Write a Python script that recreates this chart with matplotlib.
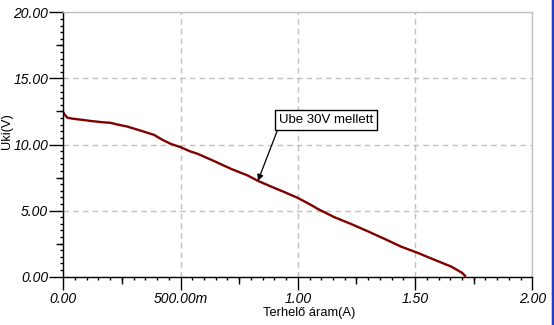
import matplotlib
matplotlib.use("Agg")
import matplotlib.pyplot as plt
from matplotlib.ticker import MultipleLocator, FixedLocator
from matplotlib.lines import Line2D

# Load current (A) vs. output voltage (V)
current = [0.000, 0.004, 0.017, 0.040, 0.079, 0.122, 0.164, 0.201, 0.236,
           0.272, 0.315, 0.351, 0.387, 0.423, 0.458, 0.500, 0.541, 0.572,
           0.644, 0.715, 0.787, 0.830, 0.886, 0.944, 1.000, 1.054, 1.085,
           1.156, 1.227, 1.299, 1.370, 1.441, 1.506, 1.584, 1.655, 1.700,
           1.717]
voltage = [12.45, 12.30, 12.03, 11.95, 11.87, 11.77, 11.69, 11.64, 11.49,
           11.36, 11.13, 10.93, 10.73, 10.35, 10.05, 9.80, 9.48, 9.30,
           8.74, 8.16, 7.65, 7.25, 6.82, 6.39, 5.96, 5.45, 5.13,
           4.50, 3.99, 3.43, 2.86, 2.27, 1.84, 1.27, 0.76, 0.30,
           0.00]

x_ticks = [0.0, 0.5, 1.0, 1.5, 2.0]
x_tick_labels = ["0.00", "500.00m", "1.00", "1.50", "2.00"]
y_ticks = [0, 5, 10, 15, 20]
y_tick_labels = ["0.00", "5.00", "10.00", "15.00", "20.00"]

annot_text = "Ube 30V mellett"
annot_point = (0.83, 7.25)
annot_box = (0.92, 12.30)

W, H = 554, 325
fig = plt.figure(figsize=(W / 100, H / 100), dpi=100)
fig.patch.set_facecolor("white")

x0, x1 = 63.3, 532.3
y0, y1 = 276.7, 12.3
ax = fig.add_axes([x0 / W, 1 - y0 / H, (x1 - x0) / W, (y0 - y1) / H])

ax.plot(current, voltage, color="#800000", lw=1.7, solid_capstyle="butt",
        solid_joinstyle="round")

ax.set_xlim(0, 2)
ax.set_ylim(0, 20)

tick_font = dict(family="Liberation Sans", style="italic", size=10)

ax.xaxis.set_major_locator(FixedLocator(x_ticks))
ax.set_xticklabels(x_tick_labels, **tick_font)
ax.yaxis.set_major_locator(FixedLocator(y_ticks))
ax.set_yticklabels(y_tick_labels, **tick_font)
ax.xaxis.set_minor_locator(MultipleLocator(0.05))
ax.yaxis.set_minor_locator(MultipleLocator(0.5))

ax.tick_params(axis="x", which="major", direction="out", length=9, width=1,
               pad=2, color="black")
ax.tick_params(axis="y", which="major", direction="out", length=10, width=1,
               pad=1, color="black")
ax.tick_params(which="minor", direction="out", length=2.5, width=1, color="black")

# intermediate ticks at the half-divisions
sx = ax.secondary_xaxis("bottom")
sx.set_xticks([0.25, 0.75, 1.25, 1.75])
sx.set_xticklabels([])
sx.tick_params(direction="out", length=5, width=1, color="black")
sx.spines["bottom"].set_visible(False)
sy = ax.secondary_yaxis("left")
sy.set_yticks([2.5, 7.5, 12.5, 17.5])
sy.set_yticklabels([])
sy.tick_params(direction="out", length=5, width=1, color="black")
sy.spines["left"].set_visible(False)

ax.grid(True, which="major", color="#c0c0c0", linestyle=(0, (4, 3)), lw=1)
for s in ("top", "right"):
    ax.spines[s].set_color("#c0c0c0")
    ax.spines[s].set_linewidth(1)
for s in ("left", "bottom"):
    ax.spines[s].set_color("black")
    ax.spines[s].set_linewidth(1)
ax.set_axisbelow(True)

fig.text(309 / W, 1 - 313 / H, "Terhelő áram(A)", ha="center", va="center",
         family="Liberation Sans", size=9.3)
fig.text(7.5 / W, 1 - 131 / H, "Uki(V)", ha="center", va="center",
         rotation=90, family="Liberation Sans", size=9.3)

ax.annotate(annot_text, xy=annot_point, xytext=annot_box,
            textcoords="data", ha="left", va="top",
            family="Liberation Sans", size=9.5,
            bbox=dict(boxstyle="square,pad=0.3", fc="white", ec="black", lw=1),
            arrowprops=dict(arrowstyle="-|>", color="black", lw=0.9,
                            mutation_scale=9, shrinkA=0, shrinkB=0,
                            relpos=(0.0, 0.0)))

# window frame on the right edge
fig.add_artist(Line2D([550.5 / W] * 2, [0, 1], color="#d0d0d0", lw=0.8,
                      transform=fig.transFigure))
fig.add_artist(Line2D([552.5 / W] * 2, [0, 1], color="#2040c0", lw=1.5,
                      transform=fig.transFigure))

fig.savefig("out.png", dpi=100, facecolor="white")
